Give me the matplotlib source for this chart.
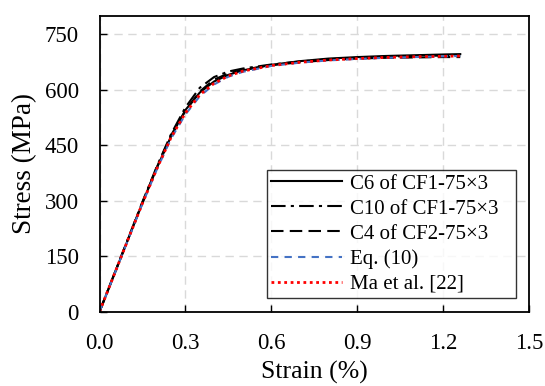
import matplotlib
matplotlib.use('Agg')
import matplotlib.pyplot as plt

plt.rcParams['font.family'] = ['Liberation Serif', 'DejaVu Serif']
plt.rcParams['font.size'] = 16

# Strain (%) and stress (MPa) values
strain = [0.0, 0.05, 0.10, 0.15, 0.20, 0.25, 0.30, 0.35, 0.40, 0.45, 0.50,
          0.60, 0.70, 0.80, 0.90, 1.00, 1.10, 1.20, 1.26]
c6 = [0, 98, 196, 294, 388, 474, 545, 592, 622, 640, 652,
      667, 677, 684, 688, 691, 693, 695, 696]
c10 = [0, 99, 198, 297, 392, 480, 552, 605, 634, 649, 657,
       668, 676, 682, 686, 689, 691, 692, 693]
c4 = [0, 98, 197, 295, 390, 477, 542, 595, 627, 644, 654,
      666, 674, 680, 684, 686, 687, 688, 688]
eq10 = [0, 97, 195, 292, 384, 468, 533, 582, 614, 635, 648,
        664, 673, 679, 683, 686, 688, 690, 691]
ma22 = [0, 98, 196, 293, 386, 471, 537, 586, 617, 637, 650,
        665, 674, 680, 684, 687, 689, 690, 691]

xticks = [0.0, 0.3, 0.6, 0.9, 1.2, 1.5]
yticks = [0, 150, 300, 450, 600, 750]

fig = plt.figure(figsize=(5.45, 3.86), dpi=100)
ax = fig.add_axes([0.1826, 0.1925, 0.788, 0.767])

ax.plot(strain, c6, color='black', linewidth=1.5, label='C6 of CF1-75×3')
ax.plot(strain, c10, color='black', linewidth=1.5, dashes=(7, 2.5, 1.5, 2.5),
        label='C10 of CF1-75×3')
ax.plot(strain, c4, color='black', linewidth=1.5, dashes=(6, 3),
        label='C4 of CF2-75×3')
ax.plot(strain, eq10, color='#4472C4', linewidth=1.5, dashes=(3.5, 3),
        label='Eq. (10)')
ax.plot(strain, ma22, color='#FF0000', linewidth=2, linestyle=(0, (1, 1.3)),
        label='Ma et al. [22]')

ax.set_xlim(0, 1.5)
ax.set_ylim(0, 800)
ax.set_xticks(xticks)
ax.set_xticklabels([f'{t:.1f}' for t in xticks])
ax.set_yticks(yticks)
ax.grid(True, color='#d9d9d9', linestyle=(0, (6, 4)), linewidth=1)
ax.set_axisbelow(True)
ax.tick_params(direction='in', length=5, width=1, labelsize=16.5)
ax.tick_params(axis='x', pad=15)
ax.tick_params(axis='y', pad=15)
for s in ax.spines.values():
    s.set_linewidth(1.3)

ax.set_xlabel('Strain (%)', fontsize=18.5, labelpad=5)
ax.set_ylabel('Stress (MPa)', fontsize=19.5, labelpad=5)

leg = ax.legend(loc='lower right', bbox_to_anchor=(0.39, 0.046, 0.58, 0.40),
                mode='expand', fontsize=15, handlelength=3.4, frameon=True,
                fancybox=False, edgecolor='black', borderaxespad=0,
                labelspacing=0.26, borderpad=0.2, handletextpad=0.4)
leg.get_frame().set_linewidth(1)

fig.savefig('out.png', dpi=100)
